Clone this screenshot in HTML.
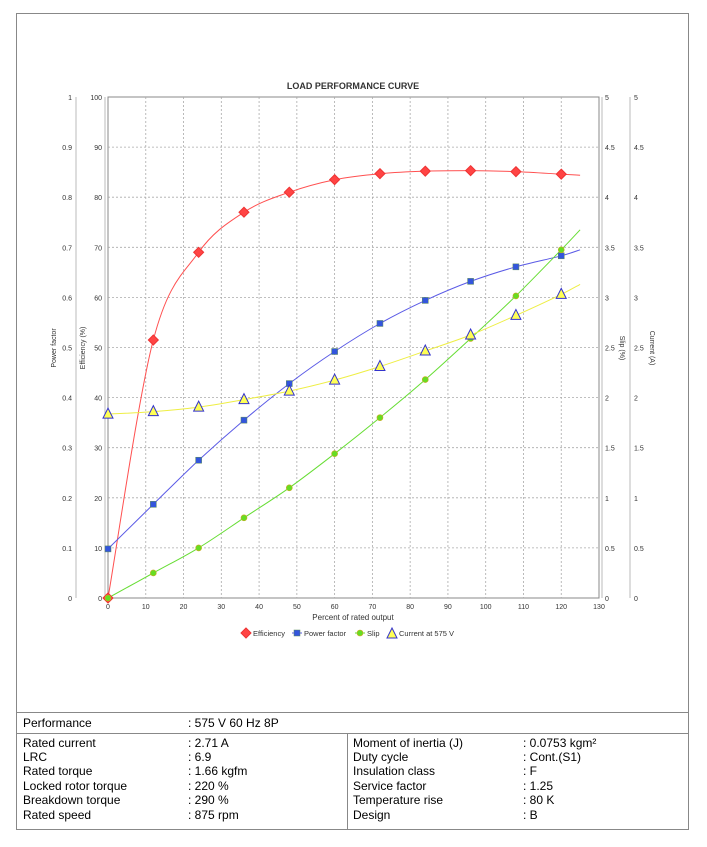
<!DOCTYPE html>
<html><head><meta charset="utf-8"><style>
body{margin:0;background:#fff;width:707px;height:847px;position:relative;font-family:"Liberation Sans",sans-serif;overflow:hidden}
#frame{position:absolute;left:16px;top:13px;width:673px;height:817px;border:1px solid #888;box-sizing:border-box}
.t{position:absolute;font-size:12px;color:#000;white-space:nowrap}
.hl{position:absolute;height:1px;background:#888}
</style></head><body>
<div id="frame"></div>
<svg id="s" width="707" height="712" style="position:absolute;left:0;top:0" font-family="Liberation Sans, sans-serif"></svg>
<div class="hl" style="left:16px;top:712px;width:673px"></div>
<div class="hl" style="left:16px;top:733px;width:673px"></div>
<div style="position:absolute;left:347px;top:733px;width:1px;height:97px;background:#888"></div>
<div class="t" style="left:23px;top:716px">Performance</div><div class="t" style="left:188px;top:716px">: 575 V 60 Hz 8P</div>
<div class="t" style="left:23px;top:736px">Rated current</div><div class="t" style="left:188px;top:736px">: 2.71 A</div>
<div class="t" style="left:23px;top:750px">LRC</div><div class="t" style="left:188px;top:750px">: 6.9</div>
<div class="t" style="left:23px;top:764px">Rated torque</div><div class="t" style="left:188px;top:764px">: 1.66 kgfm</div>
<div class="t" style="left:23px;top:779px">Locked rotor torque</div><div class="t" style="left:188px;top:779px">: 220 %</div>
<div class="t" style="left:23px;top:793px">Breakdown torque</div><div class="t" style="left:188px;top:793px">: 290 %</div>
<div class="t" style="left:23px;top:808px">Rated speed</div><div class="t" style="left:188px;top:808px">: 875 rpm</div>
<div class="t" style="left:353px;top:736px">Moment of inertia (J)</div><div class="t" style="left:523px;top:736px">: 0.0753 kgm²</div>
<div class="t" style="left:353px;top:750px">Duty cycle</div><div class="t" style="left:523px;top:750px">: Cont.(S1)</div>
<div class="t" style="left:353px;top:764px">Insulation class</div><div class="t" style="left:523px;top:764px">: F</div>
<div class="t" style="left:353px;top:779px">Service factor</div><div class="t" style="left:523px;top:779px">: 1.25</div>
<div class="t" style="left:353px;top:793px">Temperature rise</div><div class="t" style="left:523px;top:793px">: 80 K</div>
<div class="t" style="left:353px;top:808px">Design</div><div class="t" style="left:523px;top:808px">: B</div>
<script>
const X=v=>108+v*3.777, Y=v=>598-v*5.01;
let h='';
h+='<text x="353" y="89" font-size="9" text-anchor="middle" font-weight="bold" fill="#333">LOAD PERFORMANCE CURVE</text>';
h+='<rect x="108" y="97" width="491" height="501" fill="#fff" stroke="#888"/>';
for(let i=1;i<13;i++)h+=`<line x1="${X(i*10)}" y1="97" x2="${X(i*10)}" y2="598" stroke="#aaa" stroke-dasharray="2,2" stroke-width="0.8"/>`;
for(let i=1;i<10;i++)h+=`<line x1="108" y1="${Y(i*10)}" x2="599" y2="${Y(i*10)}" stroke="#aaa" stroke-dasharray="2,2" stroke-width="0.8"/>`;
h+='<line x1="76" y1="97" x2="76" y2="598" stroke="#bbb"/><line x1="105" y1="97" x2="105" y2="598" stroke="#bbb"/><line x1="602" y1="97" x2="602" y2="598" stroke="#bbb"/><line x1="630" y1="97" x2="630" y2="598" stroke="#bbb"/>';
for(let i=0;i<=10;i++){const y=Y(i*10)+3;
 const pf=i==0?'0':i==10?'1':(i/10).toFixed(1);
 const r=i%2==0?String(i/2):(i/2).toFixed(1);
 h+=`<text x="72" y="${y}" font-size="7" text-anchor="end" fill="#333">${pf}</text><text x="102" y="${y}" font-size="7" text-anchor="end" fill="#333">${i*10}</text><text x="605" y="${y}" font-size="7" fill="#333">${r}</text><text x="634" y="${y}" font-size="7" fill="#333">${r}</text>`;}
for(let i=0;i<=13;i++)h+=`<text x="${X(i*10)}" y="609" font-size="7" text-anchor="middle" fill="#333">${i*10}</text>`;
h+='<text x="353" y="620" font-size="8" text-anchor="middle" fill="#333">Percent of rated output</text>';
h+='<text transform="translate(56,348) rotate(-90)" font-size="7" text-anchor="middle" fill="#333">Power factor</text>';
h+='<text transform="translate(85,348) rotate(-90)" font-size="7" text-anchor="middle" fill="#333">Efficiency (%)</text>';
h+='<text transform="translate(620,348) rotate(90)" font-size="7" text-anchor="middle" fill="#333">Slip (%)</text>';
h+='<text transform="translate(650,348) rotate(90)" font-size="7" text-anchor="middle" fill="#333">Current (A)</text>';
const xs=[0,12,24,36,48,60,72,84,96,108,120];
const S=[
 {c:'#ff5050',d:[0,51.5,69,77,81,83.5,84.7,85.2,85.3,85.1,84.6],e:84.4,m:'d'},
 {c:'#5a5ae6',d:[9.8,18.7,27.5,35.5,42.8,49.2,54.8,59.4,63.2,66.1,68.3],e:69.5,m:'s'},
 {c:'#66dd33',d:[0,5,10,16,22,28.8,36,43.6,51.8,60.3,69.5],e:73.5,m:'c'},
 {c:'#eeee44',d:[36.7,37.2,38.1,39.6,41.3,43.5,46.2,49.3,52.5,56.4,60.6],e:62.6,m:'t'}];
function curve(s){
 const xx=xs.concat([125]),yy=s.d.concat([s.e]);
 const P=xx.map((x,i)=>[X(x),Y(yy[i])]);
 let d=`M${P[0][0]},${P[0][1]}`;
 for(let i=0;i<P.length-1;i++){
  const p0=P[Math.max(0,i-1)],p1=P[i],p2=P[i+1],p3=P[Math.min(P.length-1,i+2)];
  const c1=[p1[0]+(p2[0]-p0[0])/6,p1[1]+(p2[1]-p0[1])/6];
  const c2=[p2[0]-(p3[0]-p1[0])/6,p2[1]-(p3[1]-p1[1])/6];
  d+=` C${c1[0].toFixed(1)},${c1[1].toFixed(1)} ${c2[0].toFixed(1)},${c2[1].toFixed(1)} ${p2[0].toFixed(1)},${p2[1].toFixed(1)}`;
 }
 return d;}
S.forEach(s=>{h+=`<path d="${curve(s)}" fill="none" stroke="${s.c}" stroke-width="1"/>`;});
function mk(m,x,y,c){
 if(m=='d')return `<polygon points="${x},${y-5} ${x+5},${y} ${x},${y+5} ${x-5},${y}" fill="#f44" stroke="#e33"/>`;
 if(m=='s')return `<rect x="${x-3}" y="${y-3}" width="6" height="6" fill="#3355dd" stroke="#5a8a5a" stroke-width="0.5"/>`;
 if(m=='c')return `<circle cx="${x}" cy="${y}" r="3" fill="#66dd22" stroke="#ccaa22" stroke-width="0.6"/>`;
 return `<polygon points="${x},${y-6} ${x+5},${y+4} ${x-5},${y+4}" fill="#ffff55" stroke="#3333cc"/>`;}
S.forEach(s=>xs.forEach((x,i)=>{h+=mk(s.m,X(x),Y(s.d[i]),s.c)}));
h+=mk('d',246,633)+'<text x="253" y="636" font-size="7.5" fill="#333">Efficiency</text>';
h+='<line x1="292" y1="633" x2="302" y2="633" stroke="#5a5ae6"/>'+mk('s',297,633)+'<text x="304" y="636" font-size="7.5" fill="#333">Power factor</text>';
h+='<line x1="355" y1="633" x2="365" y2="633" stroke="#66dd33"/>'+mk('c',360,633)+'<text x="367" y="636" font-size="7.5" fill="#333">Slip</text>';
h+=mk('t',392,634)+'<text x="399" y="636" font-size="7.5" fill="#333">Current at 575 V</text>';
document.getElementById('s').innerHTML=h;
</script>
</body></html>
